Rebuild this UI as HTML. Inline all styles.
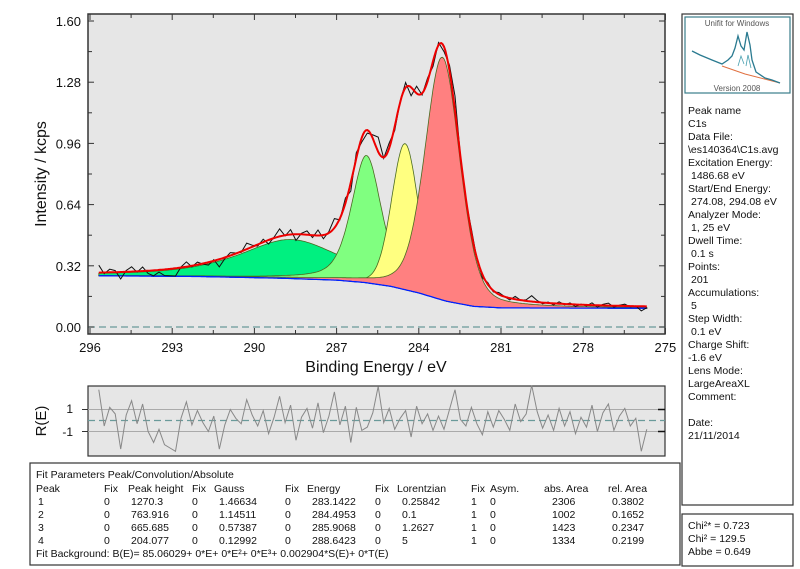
<!DOCTYPE html>
<html><head><meta charset="utf-8">
<style>
html,body{margin:0;padding:0;background:#fff;width:800px;height:569px;overflow:hidden;font-family:"Liberation Sans",Arial,sans-serif;}
svg text{font-family:"Liberation Sans",Arial,sans-serif;}
</style></head>
<body>
<svg id="chart" width="800" height="569" viewBox="0 0 800 569" xmlns="http://www.w3.org/2000/svg">
<rect x="0" y="0" width="800" height="569" fill="#fff"/>
<rect x="88" y="14" width="577" height="320" fill="#e6e6e6" stroke="#333" stroke-width="1.5"/>
<g id="main"></g>
<text x="376" y="372" font-size="16" text-anchor="middle" fill="#111">Binding Energy / eV</text>
<text transform="translate(46,174) rotate(-90)" font-size="16" text-anchor="middle" fill="#111">Intensity / kcps</text>
<rect x="88" y="386" width="577" height="70" fill="#e6e6e6" stroke="#333" stroke-width="1.2"/>
<g id="resid"></g>
<text transform="translate(46,421) rotate(-90)" font-size="15" text-anchor="middle" fill="#111">R(E)</text>
<text x="73" y="413" font-size="12" text-anchor="end" fill="#111">1</text>
<text x="73" y="436" font-size="12" text-anchor="end" fill="#111">-1</text>

<g font-size="10.5" fill="#111">
<rect x="30" y="463" width="650" height="102" fill="#fff" stroke="#333" stroke-width="1.2"/>
<text x="36" y="478">Fit Parameters Peak/Convolution/Absolute</text>
<g id="tbl"></g>
<text x="36" y="557">Fit Background: B(E)= 85.06029+ 0*E+ 0*E²+ 0*E³+ 0.002904*S(E)+ 0*T(E)</text>
</g>

<g font-size="10.5" fill="#111">
<rect x="682" y="14" width="111" height="491" fill="#fff" stroke="#333" stroke-width="1.2"/>
<g>
<rect x="685" y="17" width="105" height="76" fill="#fff" stroke="#3a7d8a" stroke-width="1.2"/>
<text x="737" y="26" font-size="8" text-anchor="middle" fill="#555">Unifit for Windows</text>
<text x="737" y="91" font-size="8" text-anchor="middle" fill="#555">Version 2008</text>
<path d="M722 66 L745 74 L780 83" stroke="#e07040" fill="none" stroke-width="1"/>
<path d="M738 66 L741 56 L744 64 M746 66 L748 55 L751 68" stroke="#4aa0b0" fill="none" stroke-width="0.8"/>
<path d="M692 51 L700 55 L712 60 L722 64 L728 60 L732 56 L735 48 L738 36 L741 46 L744 50 L747 32 L750 45 L752 60 L756 72 L765 78 L772 80 L780 83" stroke="#2a7a90" fill="none" stroke-width="1.3"/>
</g>
<text x="688" y="114">Peak name</text>
<text x="688" y="127">C1s</text>
<text x="688" y="140">Data File:</text>
<text x="688" y="153">\es140364\C1s.avg</text>
<text x="688" y="166">Excitation Energy:</text>
<text x="691" y="179">1486.68 eV</text>
<text x="688" y="192">Start/End Energy:</text>
<text x="691" y="205">274.08,  294.08 eV</text>
<text x="688" y="218">Analyzer Mode:</text>
<text x="691" y="231">1,  25 eV</text>
<text x="688" y="244">Dwell Time:</text>
<text x="691" y="257">0.1 s</text>
<text x="688" y="270">Points:</text>
<text x="691" y="283">201</text>
<text x="688" y="296">Accumulations:</text>
<text x="691" y="309">5</text>
<text x="688" y="322">Step Width:</text>
<text x="691" y="335">0.1 eV</text>
<text x="688" y="348">Charge Shift:</text>
<text x="688" y="361">-1.6 eV</text>
<text x="688" y="374">Lens Mode:</text>
<text x="688" y="387">LargeAreaXL</text>
<text x="688" y="400">Comment:</text>
<text x="688" y="426">Date:</text>
<text x="688" y="439">21/11/2014</text>
</g>
<g font-size="10.5" fill="#111">
<rect x="682" y="514" width="111" height="52" fill="#fff" stroke="#333" stroke-width="1.2"/>
<text x="688" y="529">Chi²* =  0.723</text>
<text x="688" y="542">Chi² = 129.5</text>
<text x="688" y="555">Abbe = 0.649</text>
</g>
</svg>
<script>
const NS="http://www.w3.org/2000/svg";
// ---- data ----
const yTicks=[0,0.32,0.64,0.96,1.28,1.60];
const yTickLabels=["0.00","0.32","0.64","0.96","1.28","1.60"];
const xTicks=[296,293,290,287,284,281,278,275];
const peakCenters=[283.14,284.50,285.91,288.64];
const peakHeights=[1.27,0.764,0.666,0.204];
const peakWidths=[1.5,1.15,1.3,4.5];
const peakEta=[0.3,0.15,0.5,0.7];
const peakColors=["#ff8080","#ffff80","#80ff80","#00f080"];
const bgEnergies=[295.7,292,289,287,286,285,284,283,282,281,275.6];
const bgValues=[0.268,0.264,0.255,0.245,0.233,0.212,0.178,0.135,0.108,0.100,0.098];
const residuals=[2.8,-0.5,1.2,0.6,-2.6,0.5,1.8,-0.3,1.5,-1.0,-2.0,-0.8,-2.2,-2.5,-2.8,0.2,1.7,-0.4,0.9,-0.2,-1.0,0.4,-2.6,-0.4,1.0,0.2,-0.3,1.9,0.5,-0.5,0.9,-1.2,0.3,2.2,-0.2,1.4,-1.8,0.3,1.1,-0.7,1.6,-1.1,0.4,2.6,-0.4,1.3,-2.0,1.2,-0.9,-0.6,0.7,3.1,-0.2,1.1,-0.8,0.2,0.9,-1.5,1.3,-0.3,0.6,-0.9,0.4,-0.8,1.0,2.8,0.1,-0.5,1.2,-0.3,-1.3,0.8,-0.6,0.9,0.1,-0.9,1.5,-0.1,0.6,3.2,0.8,-0.7,0.5,-0.9,1.1,-0.5,0.8,-1.2,0.3,-0.6,1.4,-1.0,0.7,1.5,-0.9,0.4,1.1,-0.5,0.2,-2.8,-0.8];
const tableHeader=["Peak","Fix","Peak height","Fix","Gauss","Fix","Energy","Fix","Lorentzian","Fix","Asym.","abs. Area","rel. Area"];
const tableRows=[
 ["1","0","1270.3","0","1.46634","0","283.1422","0","0.25842","1","0","2306","0.3802"],
 ["2","0","763.916","0","1.14511","0","284.4953","0","0.1","1","0","1002","0.1652"],
 ["3","0","665.685","0","0.57387","0","285.9068","0","1.2627","1","0","1423","0.2347"],
 ["4","0","204.077","0","0.12992","0","288.6423","0","5","1","0","1334","0.2199"]];
// ---- axes ----
const xS=e=>90+(296-e)*27.4;
const yS=v=>327-v*191.25;
const rS=r=>420.5-r*11;
function mk(tag,attrs,parent){const el=document.createElementNS(NS,tag);for(const k in attrs)el.setAttribute(k,attrs[k]);parent.appendChild(el);return el;}
const main=document.getElementById('main'),resid=document.getElementById('resid');
function bgAt(e){for(let i=0;i<bgEnergies.length-1;i++){const a=bgEnergies[i],b=bgEnergies[i+1];if(e<=a&&e>=b){const t=(a-e)/(a-b);return bgValues[i]+t*(bgValues[i+1]-bgValues[i]);}}return e>bgEnergies[0]?bgValues[0]:bgValues[bgValues.length-1];}
function peakAt(i,e){const x=e-peakCenters[i],w=peakWidths[i];const g=Math.exp(-4*Math.LN2*x*x/(w*w)),l=1/(1+4*x*x/(w*w));return peakHeights[i]*(peakEta[i]*l+(1-peakEta[i])*g);}
const E0=295.68,E1=275.68;
const grid=[];for(let e=E0;e>=E1-1e-9;e-=0.05)grid.push(e);
for(let i=peakCenters.length-1;i>=0;i--){
 let d="";grid.forEach((e,k)=>{d+=(k?"L":"M")+xS(e).toFixed(1)+" "+yS(bgAt(e)+peakAt(i,e)).toFixed(1);});
 for(let k=grid.length-1;k>=0;k--)d+="L"+xS(grid[k]).toFixed(1)+" "+yS(bgAt(grid[k])).toFixed(1);
 const p=mk('path',{d:d+"Z",fill:peakColors[i],stroke:"#4a6a20","stroke-width":"0.8"},main);
 
 
}
let bd="";grid.forEach((e,k)=>{bd+=(k?"L":"M")+xS(e).toFixed(1)+" "+yS(bgAt(e)).toFixed(1);});
const bgl=mk('path',{d:bd,fill:"none",stroke:"#0020ff","stroke-width":"1.3"},main);


const fitAt=e=>bgAt(e)+peakCenters.reduce((s,c,i)=>s+peakAt(i,e),0);
let rd="";residuals.forEach((r,k)=>{const e=E0-k*(E0-E1)/(residuals.length-1);const v=fitAt(e)+r*0.013*Math.sqrt(fitAt(e)/0.25);rd+=(k?"L":"M")+xS(e).toFixed(1)+" "+yS(v).toFixed(1);});
const raw=mk('path',{d:rd,fill:"none",stroke:"#111","stroke-width":"1"},main);


let fd="";grid.forEach((e,k)=>{fd+=(k?"L":"M")+xS(e).toFixed(1)+" "+yS(fitAt(e)).toFixed(1);});
const fit=mk('path',{d:fd,fill:"none",stroke:"#ee0000","stroke-width":"2"},main);


const zl=mk('line',{x1:88,x2:665,y1:yS(0),y2:yS(0),stroke:"#6a9a9a","stroke-width":"1.3","stroke-dasharray":"7,4"},main);


yTicks.forEach((v,i)=>{
 mk('line',{x1:88,x2:94,y1:yS(v),y2:yS(v),stroke:"#333"},main);
 mk('line',{x1:659,x2:665,y1:yS(v),y2:yS(v),stroke:"#333"},main);
 if(i<yTicks.length-1){const m=v+0.16;mk('line',{x1:88,x2:92,y1:yS(m),y2:yS(m),stroke:"#333"},main);mk('line',{x1:661,x2:665,y1:yS(m),y2:yS(m),stroke:"#333"},main);}
 const t=mk('text',{x:81,y:yS(v)+5,"font-size":"13","text-anchor":"end",fill:"#111"},main);
 t.textContent=yTickLabels[i];
 
 
});
xTicks.forEach((v,i)=>{
 mk('line',{x1:xS(v),x2:xS(v),y1:14,y2:20,stroke:"#333"},main);
 mk('line',{x1:xS(v),x2:xS(v),y1:334,y2:328,stroke:"#333"},main);
 if(i<xTicks.length-1){const m=v-1.5;mk('line',{x1:xS(m),x2:xS(m),y1:14,y2:18,stroke:"#333"},main);mk('line',{x1:xS(m),x2:xS(m),y1:334,y2:330,stroke:"#333"},main);}
 const t=mk('text',{x:xS(v),y:352,"font-size":"13","text-anchor":"middle",fill:"#111"},main);
 t.textContent=String(v);
 
 
});
[1,-1].forEach(r=>{mk('line',{x1:88,x2:665,y1:rS(r),y2:rS(r),stroke:"#aaa"},resid);mk('line',{x1:82,x2:88,y1:rS(r),y2:rS(r),stroke:"#333"},resid);mk('line',{x1:658,x2:665,y1:rS(r),y2:rS(r),stroke:"#111","stroke-width":"1.5"},resid);});
const rz=mk('line',{x1:88,x2:665,y1:rS(0),y2:rS(0),stroke:"#6a9a9a","stroke-width":"1.3","stroke-dasharray":"7,4"},resid);


let rr="";residuals.forEach((r,k)=>{const e=E0-k*(E0-E1)/(residuals.length-1);rr+=(k?"L":"M")+xS(e).toFixed(1)+" "+rS(Math.max(-3.2,Math.min(3.2,r))).toFixed(1);});
const rl=mk('path',{d:rr,fill:"none",stroke:"#888","stroke-width":"1"},resid);


const tbl=document.getElementById('tbl');
const colX=[36,104,131,192,219,285,312,375,402,471,490,552,612];
const hdr=[36,104,128,192,214,285,307,375,397,471,490,544,608];
tableHeader.forEach((h,c)=>{const t=mk('text',{x:hdr[c],y:492},tbl);t.textContent=h;});
tableRows.forEach((row,r)=>{row.forEach((v,c)=>{const t=mk('text',{x:colX[c]-(c===0?-2:0),y:505+r*13},tbl);t.textContent=v;});});
</script>
</body></html>
